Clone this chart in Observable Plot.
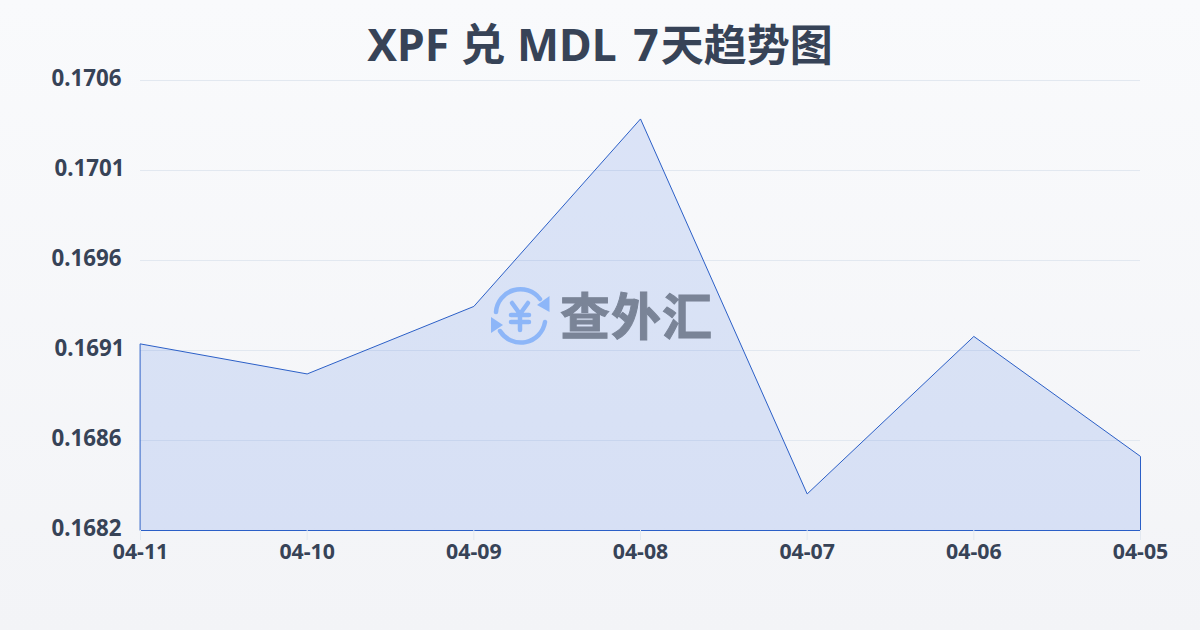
<!DOCTYPE html>
<html><head><meta charset="utf-8">
<script src="https://cdn.jsdelivr.net/npm/d3@7"></script>
<script src="https://cdn.jsdelivr.net/npm/@observablehq/plot@0.6"></script>
<style>
html,body{margin:0;padding:0;width:1200px;height:630px;overflow:hidden;background:linear-gradient(180deg,#f9fafc,#f3f4f7);font-family:"Noto Sans","Noto Sans CJK SC",sans-serif}
#wrap{position:relative;width:1200px;height:630px}
#title{position:absolute;left:0;right:0;top:17px;text-align:center;font-size:44.6px;line-height:54px;font-weight:700;color:#374357}
#title .seven{margin-left:5px}
#title .cjk{font-size:43px;margin-left:2px}
#chart{position:absolute;left:0;top:0}
#chart svg{background:transparent;display:block}
#mark{position:absolute;left:490px;top:285px;width:225px;height:60px;display:flex;align-items:center}
#mark span{font:700 50px/60px "Noto Sans CJK SC",sans-serif;color:#7a8497;-webkit-text-stroke:1px #7a8497;margin:-4px 0 0 10px;letter-spacing:1px}
</style></head><body>
<div id="wrap">
<div id="title">XPF 兑 MDL <span class="seven">7</span><span class="cjk">天趋势图</span></div>
<div id="chart"></div>
<div id="mark">
<svg width="60" height="60" viewBox="0 0 60 60" fill="none" stroke="#8db6f8" stroke-width="4.5" stroke-linecap="round" stroke-linejoin="round">
<path d="M6 27A24.5 24.5 0 0 1 50 14"/><path d="M55 37A24.5 24.5 0 0 1 10 46"/>
<path d="M59.5 11L59.5 27L47 20Z" fill="#8db6f8" stroke="none"/><path d="M1 32L1 48L13 40Z" fill="#8db6f8" stroke="none"/>
<path d="M22 18L30 29L38 18M21 30H39M21 37H39M30 29V45"/>
</svg>
<span>查外汇</span>
</div>
</div>
<script>
const dates = ["04-11","04-10","04-09","04-08","04-07","04-06","04-05"];
const rates = [0.169195,0.169035,0.169395,0.170395,0.168395,0.169235,0.168595];
const yTicks = [0.1682,0.16868,0.16916,0.16964,0.17012,0.1706];
const yLabels = ["0.1682","0.1686","0.1691","0.1696","0.1701","0.1706"];
const rows = dates.map((date,i)=>({date,rate:rates[i]}));
const fmt = v=>yLabels[yTicks.indexOf(v)];
const ends1 = yTicks.filter(v=>fmt(v).endsWith("1"));
const others = yTicks.filter(v=>!fmt(v).endsWith("1"));
const yAxisStyle = {tickSize:0,fontSize:22.3,fontWeight:700,fill:"#374357",label:null,dy:-2,tickFormat:fmt};
const plot = Plot.plot({
  width:1200,height:630,marginLeft:140,marginRight:60,marginTop:80,marginBottom:100,
  style:{background:"transparent",fontFamily:'"Noto Sans","Noto Sans CJK SC",sans-serif',overflow:"visible"},
  x:{type:"point",domain:dates,padding:0,round:false,label:null},
  y:{domain:[0.1682,0.1706],label:null},
  marks:[
    Plot.gridY(yTicks,{stroke:"#e2e8f0",strokeOpacity:1,strokeWidth:1}),
    Plot.areaY(rows,{x:"date",y1:0.1682,y2:"rate",dx:0.5,dy:0.5,fill:"#2a62e0",fillOpacity:0.14,stroke:"#2b5fc7",strokeWidth:1,curve:"linear"}),
    Plot.axisX({ticks:dates,tickSize:10,stroke:"#e2e8f0",tickPadding:3,fontSize:21.3,fontWeight:700,fill:"#374357",label:null}),
    Plot.axisY({...yAxisStyle,ticks:others,tickPadding:19}),
    Plot.axisY({...yAxisStyle,ticks:ends1,tickPadding:16})
  ]
});
document.getElementById("chart").append(plot);
</script>
</body></html>
